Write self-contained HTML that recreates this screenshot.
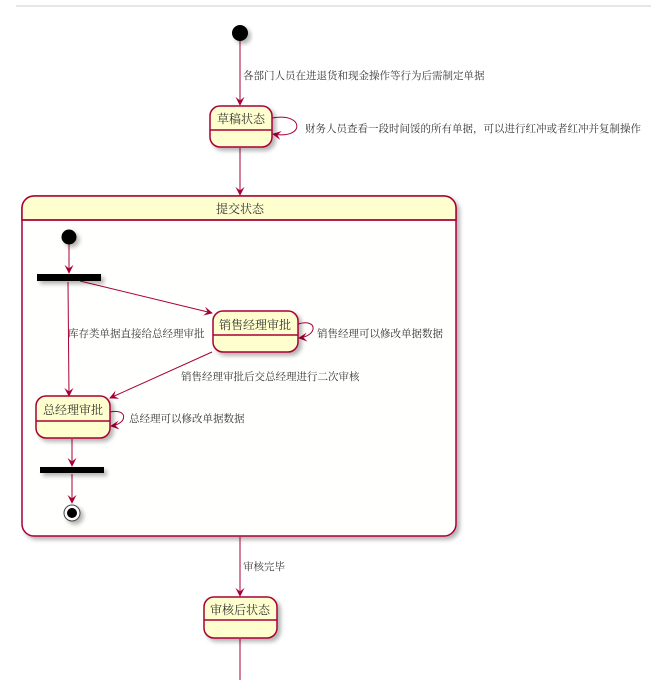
<!DOCTYPE html>
<html><head><meta charset="utf-8"><style>
html,body{margin:0;padding:0;background:#fff;width:671px;height:680px;overflow:hidden}
svg text{font-family:"Liberation Serif","Noto Serif CJK SC","Noto Sans CJK SC",serif;fill:#333}
</style></head><body>
<svg width="671" height="680" viewBox="0 0 671 680" xmlns="http://www.w3.org/2000/svg">
<defs>
<marker id="a" viewBox="0 0 10 10" refX="9" refY="5" markerWidth="9" markerHeight="9" orient="auto-start-reverse" markerUnits="userSpaceOnUse">
<path d="M0,0 L10,5 L0,10 L4,5 Z" fill="#a80036"/></marker>
<filter id="s" x="-20%" y="-20%" width="150%" height="150%"><feDropShadow dx="3" dy="3" stdDeviation="2" flood-color="#000" flood-opacity="0.3"/></filter>
</defs>
<line x1="16" y1="6" x2="651" y2="6" stroke="#ddd" stroke-width="1.5"/>
<g filter="url(#s)" stroke="#a80036" stroke-width="1.5" fill="#fefece">
<rect x="22" y="196" width="434" height="340" rx="12" fill="#fffffd"/>
</g>
<path d="M34,196 H444 A12,12 0 0 1 456,208 V220 H22 V208 A12,12 0 0 1 34,196 Z" fill="#fefece" stroke="#a80036" stroke-width="1.5"/>
<line x1="22" y1="220" x2="456" y2="220" stroke="#a80036" stroke-width="1.5"/>
<g stroke="#a80036" stroke-width="1" fill="none">
<line x1="240" y1="40" x2="240" y2="105" marker-end="url(#a)"/>
<path d="M272,118 C305,112 305,140 273,134" marker-end="url(#a)"/>
<line x1="240" y1="148" x2="240" y2="195" marker-end="url(#a)"/>
<line x1="69" y1="244" x2="69" y2="273" marker-end="url(#a)"/>
<path d="M68,282 L69,396" marker-end="url(#a)"/>
<line x1="80" y1="281" x2="212" y2="313" marker-end="url(#a)"/>
<path d="M298,324 C318,318 318,336 299,338" marker-end="url(#a)"/>
<line x1="212" y1="352" x2="110" y2="398" marker-end="url(#a)"/>
<path d="M110,412 C128,408 128,424 111,426" marker-end="url(#a)"/>
<line x1="72" y1="439" x2="72" y2="466" marker-end="url(#a)"/>
<line x1="72" y1="474" x2="72" y2="503" marker-end="url(#a)"/>
<line x1="240" y1="537" x2="240" y2="596" marker-end="url(#a)"/>
<line x1="240" y1="639" x2="240" y2="680"/>
</g>
<circle cx="240" cy="33" r="8" fill="#000" filter="url(#s)"/>
<g filter="url(#s)" stroke="#a80036" stroke-width="1.5" fill="#fefece">
<rect x="210" y="106" width="62" height="41" rx="10"/>
<rect x="204" y="597" width="73" height="41" rx="10"/>
</g>
<line x1="210" y1="130" x2="272" y2="130" stroke="#a80036" stroke-width="1.5"/>
<line x1="204" y1="620" x2="277" y2="620" stroke="#a80036" stroke-width="1.5"/>
<g filter="url(#s)">
<circle cx="69" cy="237" r="7.5" fill="#000"/>
<rect x="37" y="274" width="64" height="7" fill="#000"/>
<rect x="213" y="311" width="85" height="41" rx="10" fill="#fefece" stroke="#a80036" stroke-width="1.5"/>
<rect x="36" y="396" width="74" height="42" rx="10" fill="#fefece" stroke="#a80036" stroke-width="1.5"/>
<rect x="40" y="467" width="64" height="6" fill="#000"/>
<circle cx="72" cy="513" r="8" fill="#fff" stroke="#444" stroke-width="1"/>
</g>
<circle cx="72" cy="513" r="5" fill="#000"/>
<line x1="213" y1="335" x2="298" y2="335" stroke="#a80036" stroke-width="1.5"/>
<line x1="36" y1="421" x2="110" y2="421" stroke="#a80036" stroke-width="1.5"/>
<g font-size="10.5">
<text x="243" y="79">各部门人员在进退货和现金操作等行为后需制定单据</text>
<text x="241" y="123" text-anchor="middle" font-size="12">草稿状态</text>
<text x="305" y="132">财务人员查看一段时间馁的所有单据，可以进行红冲或者红冲并复制操作</text>
<text x="240" y="213" text-anchor="middle" font-size="12">提交状态</text>
<text x="68" y="337">库存类单据直接给总经理审批</text>
<text x="255" y="329" text-anchor="middle" font-size="12">销售经理审批</text>
<text x="317" y="337">销售经理可以修改单据数据</text>
<text x="181" y="380">销售经理审批后交总经理进行二次审核</text>
<text x="73" y="414" text-anchor="middle" font-size="12">总经理审批</text>
<text x="129" y="422">总经理可以修改单据数据</text>
<text x="243" y="570">审核完毕</text>
<text x="240" y="614" text-anchor="middle" font-size="12">审核后状态</text>
</g>
</svg>
</body></html>
